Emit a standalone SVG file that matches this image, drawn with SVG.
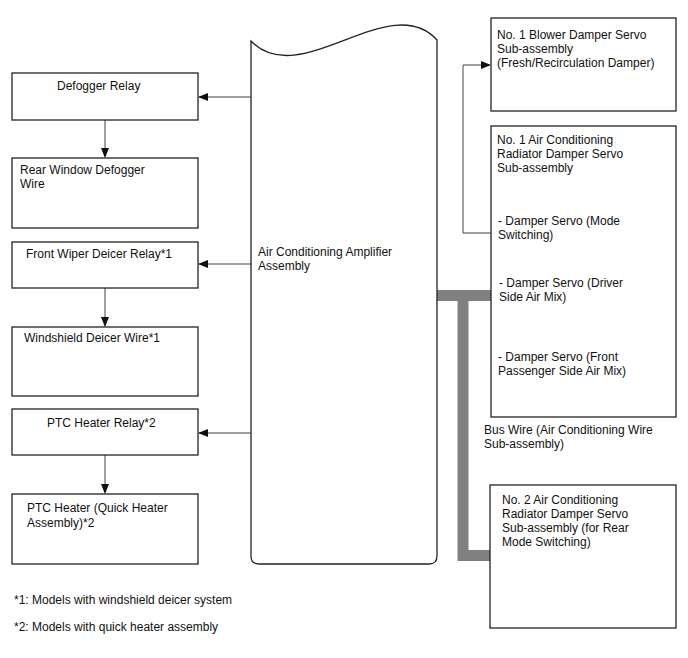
<svg xmlns="http://www.w3.org/2000/svg" width="688" height="658" viewBox="0 0 688 658">
<style>
text{font-family:"Liberation Sans",Arial,sans-serif;font-size:12px;fill:#111}
.box{fill:#fff;stroke:#222;stroke-width:1.3}
.ln{fill:none;stroke:#444;stroke-width:1}
.bus{fill:none;stroke:#808080;stroke-width:11}
</style>
<defs>
<marker id="ah" markerWidth="10" markerHeight="8" refX="9" refY="4" orient="auto" markerUnits="userSpaceOnUse">
<path d="M0,0 L10,4 L0,8 Z" fill="#111"/>
</marker>
</defs>
<rect width="688" height="658" fill="#fff"/>
<g id="connectors">
<path class="bus" d="M437,295.5 H491 M463,295.5 V555.5 H491"/>
<path class="ln" d="M251,97 H199" marker-end="url(#ah)"/>
<path class="ln" d="M251,264 H199" marker-end="url(#ah)"/>
<path class="ln" d="M251,433 H199" marker-end="url(#ah)"/>
<path class="ln" d="M105,120 V157" marker-end="url(#ah)"/>
<path class="ln" d="M105,288 V326" marker-end="url(#ah)"/>
<path class="ln" d="M105,455 V493" marker-end="url(#ah)"/>
<path class="ln" d="M491,233 H463 V65 H490" marker-end="url(#ah)"/>
</g>
<g id="amplifier">
<path class="box" d="M251,41 C300,92 390,-12 437,40 V556 Q437,564 429,564 H259 Q251,564 251,556 Z"/>
<text x="258" y="256">Air Conditioning Amplifier</text>
<text x="258" y="270">Assembly</text>
</g>
<g id="defogger-relay">
<rect class="box" x="12" y="73" width="186" height="47"/>
<text x="57" y="90">Defogger Relay</text>
</g>
<g id="rear-window-defogger-wire">
<rect class="box" x="12" y="158" width="186" height="70"/>
<text x="20" y="174">Rear Window Defogger</text>
<text x="20" y="188">Wire</text>
</g>
<g id="front-wiper-deicer-relay">
<rect class="box" x="12" y="242" width="186" height="46"/>
<text x="26" y="258">Front Wiper Deicer Relay*1</text>
</g>
<g id="windshield-deicer-wire">
<rect class="box" x="12" y="327" width="186" height="69"/>
<text x="24" y="342">Windshield Deicer Wire*1</text>
</g>
<g id="ptc-heater-relay">
<rect class="box" x="12" y="409" width="186" height="46"/>
<text x="47" y="427">PTC Heater Relay*2</text>
</g>
<g id="ptc-heater">
<rect class="box" x="12" y="494" width="186" height="70"/>
<text x="27" y="512">PTC Heater (Quick Heater</text>
<text x="27" y="527">Assembly)*2</text>
</g>
<g id="blower-damper-servo">
<rect class="box" x="491" y="18" width="185" height="93"/>
<text x="497" y="39">No. 1 Blower Damper Servo</text>
<text x="497" y="53">Sub-assembly</text>
<text x="497" y="67">(Fresh/Recirculation Damper)</text>
</g>
<g id="no1-radiator-damper-servo">
<rect class="box" x="491" y="126" width="185" height="291"/>
<text x="497" y="144">No. 1 Air Conditioning</text>
<text x="497" y="158">Radiator Damper Servo</text>
<text x="497" y="172">Sub-assembly</text>
<text x="498" y="225">- Damper Servo (Mode</text>
<text x="498" y="239">Switching)</text>
<text x="499" y="287">- Damper Servo (Driver</text>
<text x="499" y="301">Side Air Mix)</text>
<text x="498" y="361">- Damper Servo (Front</text>
<text x="498" y="375">Passenger Side Air Mix)</text>
</g>
<g id="bus-wire-label">
<text x="484" y="434">Bus Wire (Air Conditioning Wire</text>
<text x="484" y="448">Sub-assembly)</text>
</g>
<g id="no2-radiator-damper-servo">
<rect class="box" x="490" y="485" width="186" height="143"/>
<text x="502" y="504">No. 2 Air Conditioning</text>
<text x="502" y="518">Radiator Damper Servo</text>
<text x="502" y="532">Sub-assembly (for Rear</text>
<text x="502" y="546">Mode Switching)</text>
</g>
<g id="notes">
<text x="14" y="604">*1: Models with windshield deicer system</text>
<text x="14" y="631">*2: Models with quick heater assembly</text>
</g>
</svg>
